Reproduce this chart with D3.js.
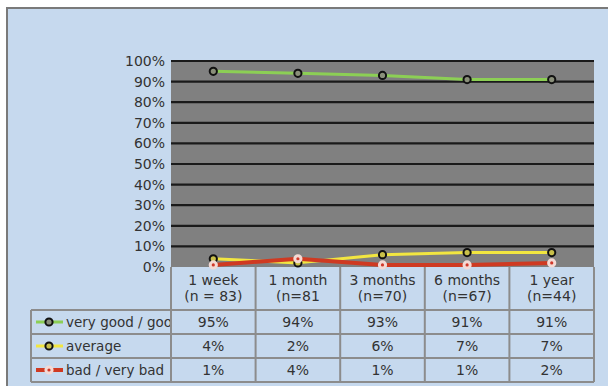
<!DOCTYPE html>
<html>
<head>
<meta charset="utf-8">
<script src="https://cdn.jsdelivr.net/npm/d3@7"></script>
<style>
  html, body { margin: 0; padding: 0; background: #ffffff; }
  svg { display: block; }
  text { font-family: "DejaVu Sans", Verdana, sans-serif; fill: #333333; }
</style>
</head>
<body>
<svg id="chart" width="608" height="386"></svg>
<script>
// Follow-up periods and sample sizes
const periods = ["1 week", "1 month", "3 months", "6 months", "1 year"];
const sampleSizes = ["(n = 83)", "(n=81", "(n=70)", "(n=67)", "(n=44)"];

// Share of ratings per period (percent)
const veryGoodGood = [95, 94, 93, 91, 91];
const average = [4, 2, 6, 7, 7];
const badVeryBad = [1, 4, 1, 1, 2];

const seriesNames = ["very good / good", "average", "bad / very bad"];
const yTicks = [0, 10, 20, 30, 40, 50, 60, 70, 80, 90, 100];

const series = [
  { name: seriesNames[0], values: veryGoodGood, line: "#8ccf55", width: 3, ring: "#111", fill: "#8a8f7a", dot: null },
  { name: seriesNames[1], values: average, line: "#f2e640", width: 3, ring: "#111", fill: "#c9c04a", dot: null },
  { name: seriesNames[2], values: badVeryBad, line: "#cf3a22", width: 4, ring: "#f4d9d4", fill: "#f4d9d4", dot: "#d0382a" }
];

const svg = d3.select("#chart");

// Panel
svg.append("rect")
  .attr("x", 7).attr("y", 8).attr("width", 610).attr("height", 390)
  .attr("fill", "#c6d9ee").attr("stroke", "#7a7a7a").attr("stroke-width", 2);

const plotLeft = 171, plotRight = 594, plotTop = 61, plotBottom = 267;
const x = d3.scaleBand().domain(periods).range([plotLeft, plotRight]).padding(0);
const y = d3.scaleLinear().domain([0, 100]).range([plotBottom, plotTop]);
const cx = d => x(d) + x.bandwidth() / 2;

// Plot background
svg.append("rect")
  .attr("x", plotLeft).attr("y", plotTop - 1)
  .attr("width", plotRight - plotLeft).attr("height", plotBottom - plotTop + 1)
  .attr("fill", "#808080");

// Horizontal gridlines
svg.append("g")
  .selectAll("line")
  .data(yTicks.filter(t => t > 0))
  .join("line")
  .attr("x1", plotLeft).attr("x2", plotRight)
  .attr("y1", d => y(d)).attr("y2", d => y(d))
  .attr("stroke", "#1a1a1a").attr("stroke-width", 2.2);

// Y axis labels
const yAxis = d3.axisLeft(y).tickValues(yTicks).tickFormat(d => d + "%").tickSize(0).tickPadding(6);
const yg = svg.append("g").attr("transform", `translate(${plotLeft},0)`).call(yAxis);
yg.select(".domain").remove();
yg.selectAll("text").attr("font-size", 14).attr("fill", "#333333")
  .attr("font-family", "DejaVu Sans, Verdana, sans-serif");

// Lines
const line = d3.line().x((d, i) => cx(periods[i])).y(d => y(d));
svg.append("g").selectAll("path")
  .data(series)
  .join("path")
  .attr("d", s => line(s.values))
  .attr("fill", "none")
  .attr("stroke", s => s.line)
  .attr("stroke-width", s => s.width)
  .attr("stroke-linejoin", "round");

// Markers
function drawMarker(g, s, px, py) {
  g.append("circle").attr("cx", px).attr("cy", py).attr("r", 3.6)
    .attr("fill", s.fill).attr("stroke", s.ring).attr("stroke-width", 2);
  if (s.dot) {
    g.append("circle").attr("cx", px).attr("cy", py).attr("r", 1.6).attr("fill", s.dot);
  }
}
const markers = svg.append("g");
series.forEach(s => s.values.forEach((v, i) => drawMarker(markers, s, cx(periods[i]), y(v))));

// Category label area and data table
const tableLeft = 31;
const rowTops = [310, 334, 358];
const rowH = 24;
const tableBottom = rowTops[2] + rowH;
const grid = svg.append("g").attr("stroke", "#8c8c8c").attr("stroke-width", 2);

// Column separators in category area and table
const colEdges = periods.map(p => x(p)).concat([plotRight]);
colEdges.forEach(e => {
  grid.append("line").attr("x1", e).attr("x2", e).attr("y1", plotBottom).attr("y2", tableBottom);
});
// Row lines
rowTops.concat([tableBottom]).forEach(r => {
  grid.append("line").attr("x1", tableLeft).attr("x2", plotRight).attr("y1", r).attr("y2", r);
});
grid.append("line").attr("x1", tableLeft).attr("x2", tableLeft).attr("y1", rowTops[0]).attr("y2", tableBottom);

// Category labels
const catLabels = svg.append("g").attr("text-anchor", "middle").attr("font-size", 14);
periods.forEach((p, i) => {
  catLabels.append("text").attr("x", cx(p)).attr("y", 285).text(p);
  catLabels.append("text").attr("x", cx(p)).attr("y", 301).text(sampleSizes[i]);
});

// Table values
const vals = svg.append("g").attr("text-anchor", "middle").attr("font-size", 14);
series.forEach((s, r) => {
  s.values.forEach((v, i) => {
    vals.append("text").attr("x", cx(periods[i])).attr("y", rowTops[r] + 17).text(v + "%");
  });
});

// Legend keys in first column (clipped to the column)
svg.append("clipPath").attr("id", "keyclip")
  .append("rect").attr("x", tableLeft).attr("y", rowTops[0]).attr("width", plotLeft - tableLeft - 1).attr("height", rowH * 3);
const keys = svg.append("g").attr("clip-path", "url(#keyclip)");
series.forEach((s, r) => {
  const my = rowTops[r] + rowH / 2;
  keys.append("line").attr("x1", 36).attr("x2", 63).attr("y1", my).attr("y2", my)
    .attr("stroke", s.line).attr("stroke-width", s.width);
  drawMarker(keys, s, 49, my);
  keys.append("text").attr("x", 66).attr("y", rowTops[r] + 17).attr("font-size", 13.5).text(s.name);
});
</script>
</body>
</html>
